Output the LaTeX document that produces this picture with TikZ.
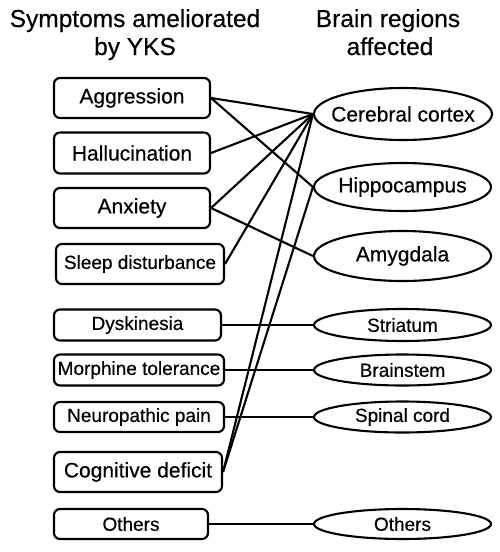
\documentclass[tikz,border=0pt]{standalone}
\usepackage{fontspec}
\setmainfont[FakeBold=0.4]{Liberation Sans}
\usetikzlibrary{shapes.geometric}
\begin{document}
\begin{tikzpicture}[x=1pt,y=-1pt,
  sym/.style={draw, line width=2.1pt, rounded corners=6pt, inner sep=0pt, align=center},
  reg/.style={draw, ellipse, line width=2.1pt, inner sep=0pt},
  big/.style={font=\fontsize{21}{24}\selectfont},
  small/.style={font=\fontsize{19}{22}\selectfont},
  head/.style={font=\fontsize{24.5}{28}\selectfont, anchor=base},
  con/.style={line width=2.1pt}]
\useasboundingbox[fill=white] (0,0) rectangle (500,552);
% headers
\node[head] (h1) at (135,27) {Symptoms ameliorated};
\node[head] (h2) at (135,55) {by YKS};
\node[head] (h3) at (388,27) {Brain regions};
\node[head] (h4) at (390,55) {affected};
% symptoms
\node[sym,big,minimum width=156pt,minimum height=40pt] (agg) at (132,98) {Aggression};
\node[sym,big,minimum width=156pt,minimum height=41pt] (hal) at (132,153) {Hallucination};
\node[sym,big,minimum width=156pt,minimum height=40pt] (anx) at (132,208) {Anxiety};
\node[sym,small,minimum width=168pt,minimum height=40pt] (slp) at (140,264) {Sleep disturbance};
\node[sym,small,minimum width=167pt,minimum height=31pt] (dys) at (137.5,325) {Dyskinesia};
\node[sym,small,minimum width=170pt,minimum height=31pt] (mor) at (139,370) {Morphine tolerance};
\node[sym,small,minimum width=170pt,minimum height=30pt] (neu) at (139,417) {Neuropathic pain};
\node[sym,big,minimum width=168pt,minimum height=40pt] (cog) at (138,472) {Cognitive deficit};
\node[sym,small,minimum width=154pt,minimum height=30pt] (oth) at (131,524) {Others};
% regions
\node[reg,big,minimum width=178pt,minimum height=52pt] (ctx) at (403,114) {\makebox[0pt]{Cerebral cortex}};
\node[reg,big,minimum width=177pt,minimum height=48pt] (hip) at (402.5,187) {\makebox[0pt]{Hippocampus}};
\node[reg,big,minimum width=177pt,minimum height=50pt] (amy) at (402.5,256) {\makebox[0pt]{Amygdala}};
\node[reg,small,minimum width=177pt,minimum height=32pt] (str) at (402.5,325) {\makebox[0pt]{Striatum}};
\node[reg,small,minimum width=177pt,minimum height=31pt] (bst) at (402.5,370) {\makebox[0pt]{Brainstem}};
\node[reg,small,minimum width=177pt,minimum height=31pt] (spc) at (402.5,417) {\makebox[0pt]{Spinal cord}};
\node[reg,small,minimum width=177pt,minimum height=30pt] (rot) at (402.5,524) {\makebox[0pt]{Others}};
% connectors
\draw[con] (agg.east) -- (ctx.west);
\draw[con] (agg.east) -- (hip.west);
\draw[con] (hal.east) -- (ctx.west);
\draw[con] (anx.east) -- (ctx.west);
\draw[con] (anx.east) -- (amy.west);
\draw[con] (slp.east) -- (ctx.west);
\draw[con] (cog.east) -- (ctx.west);
\draw[con] (cog.east) -- (hip.west);
\draw[con] (dys.east) -- (str.west);
\draw[con] (mor.east) -- (bst.west);
\draw[con] (neu.east) -- (spc.west);
\draw[con] (oth.east) -- (rot.west);
\end{tikzpicture}
\end{document}
